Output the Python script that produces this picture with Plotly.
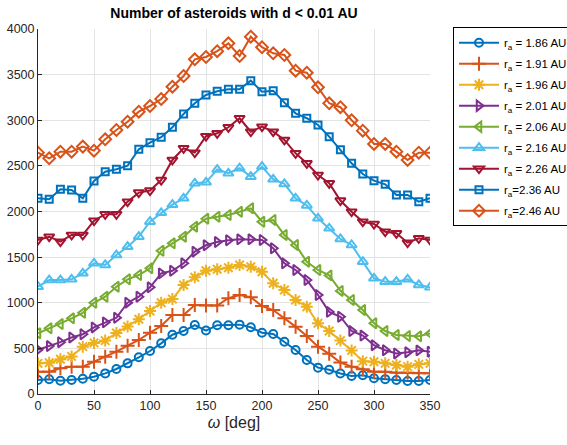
import plotly.graph_objects as go

omega = list(range(0, 360, 10))

labels = ["r<sub>a</sub> = 1.86 AU", "r<sub>a</sub> = 1.91 AU", "r<sub>a</sub> = 1.96 AU",
          "r<sub>a</sub> = 2.01 AU", "r<sub>a</sub> = 2.06 AU", "r<sub>a</sub> = 2.16 AU",
          "r<sub>a</sub> = 2.26 AU", "r<sub>a</sub>=2.36 AU", "r<sub>a</sub>=2.46 AU"]

ra_186 = [153, 161, 146, 153, 168, 190, 226, 274, 336, 402, 471, 555, 650, 690, 756, 695, 754, 754,
          760, 731, 672, 658, 573, 482, 373, 289, 265, 225, 197, 205, 172, 163, 153, 142, 142, 153]
ra_191 = [245, 245, 281, 300, 300, 354, 409, 464, 530, 592, 672, 745, 866, 866, 975, 970, 970, 1050,
          1085, 1060, 964, 920, 829, 738, 636, 519, 440, 345, 300, 271, 245, 245, 234, 234, 227, 227]
ra_196 = [336, 343, 380, 412, 519, 560, 585, 668, 740, 820, 910, 1000, 1040, 1195, 1279, 1350, 1368, 1383,
          1414, 1395, 1340, 1213, 1140, 1030, 957, 775, 690, 585, 478, 360, 354, 336, 318, 300, 325, 336]
ra_201 = [485, 525, 568, 620, 655, 730, 785, 835, 1001, 1066, 1169, 1322, 1351, 1432, 1560, 1630, 1665, 1685,
          1695, 1695, 1688, 1597, 1432, 1359, 1249, 1085, 900, 847, 690, 640, 535, 480, 445, 458, 478, 464]
ra_206 = [665, 720, 767, 829, 890, 1000, 1066, 1176, 1257, 1304, 1377, 1570, 1651, 1724, 1834, 1920, 1943, 1962,
          1998, 2035, 1888, 1907, 1743, 1633, 1450, 1359, 1300, 1130, 1030, 920, 775, 690, 647, 636, 632, 662]
ra_216 = [1176, 1249, 1249, 1257, 1322, 1432, 1414, 1523, 1614, 1724, 1888, 1985, 2075, 2145, 2309, 2320, 2460, 2419,
          2474, 2382, 2492, 2353, 2302, 2145, 2066, 1925, 1816, 1700, 1633, 1450, 1268, 1231, 1231, 1257, 1195, 1169]
ra_226 = [1688, 1724, 1669, 1743, 1743, 1899, 1970, 1970, 2108, 2207, 2229, 2345, 2565, 2693, 2645, 2825, 2857, 2923,
          3022, 2875, 2930, 2875, 2784, 2638, 2528, 2400, 2309, 2120, 1998, 1888, 1863, 1779, 1761, 1658, 1706, 1688]
ra_236 = [2145, 2134, 2244, 2236, 2145, 2334, 2436, 2463, 2502, 2682, 2754, 2814, 2923, 3069, 3186, 3277, 3318, 3339,
          3339, 3434, 3313, 3324, 3193, 3076, 3022, 2948, 2820, 2678, 2528, 2411, 2338, 2298, 2181, 2181, 2108, 2145]
ra_246 = [2645, 2583, 2656, 2656, 2711, 2667, 2791, 2893, 2984, 3094, 3156, 3233, 3368, 3485, 3668, 3693, 3757, 3843,
          3704, 3916, 3800, 3734, 3715, 3543, 3521, 3361, 3186, 3143, 3000, 2886, 2740, 2740, 2656, 2565, 2645, 2645]

x_ticks = [0, 50, 100, 150, 200, 250, 300, 350]
y_ticks = [0, 500, 1000, 1500, 2000, 2500, 3000, 3500, 4000]

series = [ra_186, ra_191, ra_196, ra_201, ra_206, ra_216, ra_226, ra_236, ra_246]
colors = ["#0072BD", "#D95319", "#EDB120", "#7E2F8E", "#77AC30", "#4DBEEE", "#A2142F", "#0072BD", "#D95319"]
symbols = ["circle-open", "cross-thin-open", "asterisk-open", "triangle-right-open", "triangle-left-open",
           "triangle-up-open", "triangle-down-open", "square-open", "diamond-open"]
sizes = [8, 10, 10, 9, 9, 9, 9, 7, 9]

font = "Liberation Sans, Arial, Helvetica, sans-serif"

fig = go.Figure()
for i, ys in enumerate(series):
    fig.add_trace(go.Scatter(
        x=omega, y=ys, name=labels[i], mode="lines+markers",
        line=dict(color=colors[i], width=2),
        marker=dict(symbol=symbols[i], size=sizes[i], color=colors[i],
                    line=dict(color=colors[i], width=2)),
        legendgroup=str(i),
    ))

axis_common = dict(
    showline=True, linecolor="#262626", linewidth=1,
    ticks="inside", ticklen=4, tickcolor="#262626",
    showgrid=True, gridcolor="#e3e3e3", gridwidth=1,
    zeroline=False, mirror=False, automargin=False,
    tickfont=dict(family=font, size=12.5, color="#262626"),
)

fig.update_layout(
    width=567, height=445,
    margin=dict(l=38, r=137, t=29, b=51, autoexpand=False),
    paper_bgcolor="white", plot_bgcolor="white",
    title=dict(text="<b>Number of asteroids with d &lt; 0.01 AU</b>",
               x=(38 + 430) / 2 / 567, xanchor="center", y=1 - 13 / 445, yanchor="middle",
               font=dict(family=font, size=14, color="black")),
    xaxis=dict(range=[0, 350], tickvals=x_ticks,
               title=dict(text="<i>ω</i> [deg]", font=dict(family=font, size=16, color="#262626"), standoff=4),
               **axis_common),
    yaxis=dict(range=[0, 4000], tickvals=y_ticks, **axis_common),
    legend=dict(x=(453 - 38) / 392, xanchor="left", y=1.005, yanchor="top",
                bordercolor="black", borderwidth=1, bgcolor="white",
                font=dict(family=font, size=11.5, color="black"),
                itemwidth=40, tracegroupgap=2),
    showlegend=True,
)

fig.write_html("out.html", config={"displayModeBar": False},
               post_script="document.body.style.margin='0px';document.body.style.overflow='hidden';")
